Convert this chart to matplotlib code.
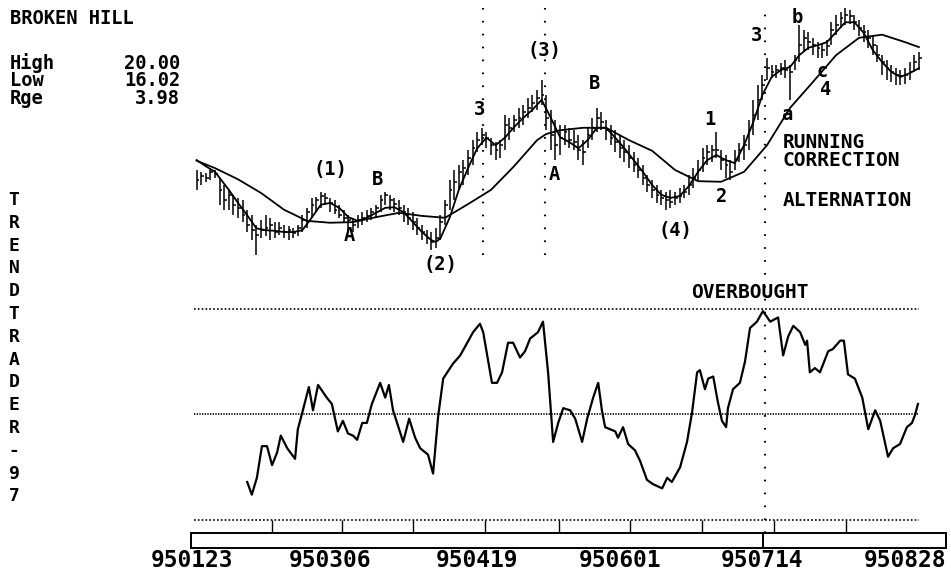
import matplotlib
matplotlib.use("Agg")
import matplotlib.pyplot as plt

# ---------------- data ----------------
days = list(range(1, 159))
high = [17.39,17.36,17.34,17.42,17.39,17.26,17.15,17.07,16.99,16.94,
        16.91,16.75,16.66,16.50,16.58,16.66,16.62,16.55,16.55,16.50,
        16.49,16.45,16.50,16.66,16.78,16.94,16.95,17.04,17.02,16.94,
        16.91,16.83,16.75,16.66,16.62,16.66,16.71,16.75,16.78,16.83,
        16.99,17.04,16.99,16.94,16.91,16.83,16.78,16.71,16.62,16.50,
        16.42,16.39,16.45,16.66,16.91,17.23,17.39,17.47,17.55,17.71,
        17.87,18.00,18.07,18.00,17.91,17.84,17.87,18.28,18.23,18.28,
        18.39,18.44,18.55,18.60,18.68,18.84,18.60,18.36,18.20,18.11,
        18.11,18.07,18.03,17.95,17.87,18.07,18.23,18.39,18.32,18.20,
        18.11,18.03,17.95,17.87,17.79,17.68,17.58,17.47,17.31,17.23,
        17.15,17.07,17.04,17.07,17.04,17.10,17.15,17.31,17.42,17.55,
        17.74,17.79,17.79,18.00,17.71,17.63,17.55,17.71,17.83,17.95,
        18.20,18.52,18.76,18.92,19.19,19.08,19.08,19.11,19.16,19.08,
        19.24,19.73,19.65,19.61,19.52,19.45,19.42,19.48,19.77,19.89,
        19.94,20.00,19.97,19.89,19.81,19.73,19.65,19.57,19.40,19.24,
        19.16,19.08,19.03,19.00,19.03,19.13,19.24,19.29]
low = [17.07,17.15,17.20,17.23,17.26,16.83,16.75,16.75,16.66,16.62,
       16.55,16.39,16.26,16.02,16.29,16.33,16.26,16.29,16.34,16.29,
       16.26,16.29,16.33,16.39,16.45,16.62,16.71,16.78,16.83,16.71,
       16.68,16.62,16.55,16.42,16.39,16.45,16.50,16.55,16.58,16.62,
       16.71,16.83,16.75,16.71,16.66,16.55,16.50,16.42,16.34,16.26,
       16.20,16.10,16.13,16.26,16.50,16.75,16.91,17.07,17.15,17.31,
       17.47,17.68,17.79,17.74,17.63,17.55,17.58,17.71,17.87,18.00,
       18.07,18.11,18.23,18.32,18.36,18.44,18.03,17.71,17.55,17.63,
       17.79,17.74,17.71,17.55,17.47,17.74,17.87,18.00,18.03,17.87,
       17.79,17.68,17.58,17.52,17.42,17.36,17.26,17.15,17.04,16.94,
       16.86,16.83,16.75,16.78,16.83,16.86,16.94,16.99,17.10,17.23,
       17.36,17.47,17.52,17.58,17.39,17.26,17.23,17.39,17.52,17.55,
       17.71,17.95,18.20,18.52,18.84,18.87,18.87,18.92,18.87,18.52,
       19.00,19.13,19.29,19.32,19.24,19.19,19.19,19.23,19.40,19.57,
       19.68,19.73,19.74,19.65,19.55,19.45,19.36,19.24,19.13,18.92,
       18.84,18.81,18.76,18.76,18.78,18.84,18.97,19.00]
close = [17.23,17.29,17.26,17.36,17.33,17.07,16.91,16.99,16.83,16.78,
         16.66,16.50,16.42,16.34,16.42,16.45,16.50,16.39,16.45,16.39,
         16.42,16.37,16.45,16.58,16.71,16.83,16.91,16.97,16.94,16.86,
         16.75,16.66,16.62,16.58,16.50,16.58,16.62,16.65,16.71,16.78,
         16.91,16.99,16.91,16.84,16.78,16.71,16.62,16.55,16.45,16.39,
         16.29,16.23,16.29,16.55,16.83,17.07,17.20,17.36,17.42,17.58,
         17.74,17.87,17.95,17.91,17.79,17.71,17.79,18.11,18.07,18.20,
         18.23,18.32,18.39,18.47,18.55,18.60,18.23,17.95,17.79,17.91,
         18.00,17.87,17.84,17.71,17.68,17.95,18.07,18.23,18.16,18.03,
         17.91,17.84,17.74,17.68,17.58,17.47,17.39,17.26,17.15,17.07,
         16.99,16.94,16.91,16.87,16.94,16.97,17.04,17.15,17.26,17.39,
         17.58,17.68,17.71,17.71,17.55,17.47,17.36,17.55,17.71,17.79,
         18.03,18.28,18.52,18.76,19.03,18.97,19.00,19.03,19.00,18.97,
         19.16,19.40,19.52,19.45,19.40,19.36,19.32,19.39,19.65,19.73,
         19.84,19.89,19.87,19.77,19.68,19.61,19.52,19.40,19.24,19.13,
         19.03,18.97,18.92,18.90,18.92,18.97,19.13,19.19]

ma_long_day = [1,5,10,15,20,25,30,35,40,45,50,55,60,65,70,75,77,80,85,90,
               95,100,105,110,115,120,125,130,135,140,145,150,155,158]
ma_long = [17.54,17.42,17.24,17.02,16.75,16.57,16.54,16.55,16.63,16.70,
           16.65,16.62,16.84,17.07,17.45,17.87,17.97,18.03,18.07,18.07,
           17.87,17.70,17.39,17.21,17.20,17.36,17.79,18.39,18.81,19.24,
           19.52,19.57,19.45,19.37]

ma_short_day = [1,3,5,8,10,12,14,16,18,20,22,24,26,28,30,32,34,36,38,40,
                42,44,46,48,50,52,53,54,56,58,60,62,64,66,68,70,72,74,76,78,
                80,82,84,86,88,90,92,94,96,98,100,102,104,106,108,110,112,114,116,118,
                120,122,124,126,128,130,132,134,136,138,140,142,144,146,148,150,152,154,156,158]
ma_short = [17.55,17.45,17.36,17.07,16.86,16.66,16.45,16.42,16.41,16.39,
            16.39,16.42,16.62,16.83,16.86,16.78,16.63,16.57,16.62,16.70,
            16.78,16.79,16.71,16.55,16.39,16.26,16.23,16.29,16.62,17.07,
            17.42,17.74,17.91,17.79,17.91,18.08,18.23,18.36,18.52,18.23,
            17.92,17.84,17.74,17.87,18.07,18.07,17.91,17.74,17.55,17.36,
            17.15,16.99,16.94,16.97,17.13,17.36,17.55,17.63,17.55,17.50,
            17.79,18.16,18.60,18.89,19.00,19.05,19.24,19.36,19.40,19.45,
            19.61,19.77,19.77,19.60,19.32,19.13,18.97,18.89,18.95,19.03]

osc_day = [12.0,13.0,14.1,15.2,16.3,17.4,18.5,19.3,20.7,22.4,23.0,24.1,25.4,26.3,27.4,
           29.3,30.4,31.7,32.8,33.9,35.0,35.9,37.0,38.0,39.1,40.9,42.0,42.8,43.7,45.9,
           47.2,48.5,49.6,51.3,52.4,53.5,54.6,56.7,58.3,61.1,62.6,63.3,65.2,66.3,67.4,
           68.7,69.8,71.3,72.4,73.5,75.2,76.3,77.4,78.5,79.6,80.7,82.2,83.3,84.8,85.9,
           87.2,88.3,89.1,89.8,90.9,92.0,92.6,93.7,94.8,96.3,97.4,98.9,100.2,102.2,103.3,
           104.3,106.1,107.6,108.7,109.8,110.4,111.5,112.2,113.3,114.3,115.2,116.1,116.5,117.6,119.1,
           120.2,121.3,122.8,124.1,125.7,127.4,128.5,129.6,130.7,132.2,133.3,133.7,134.3,135.4,136.5,
           138.3,139.3,140.9,141.7,142.6,144.1,145.7,147.0,148.5,149.6,151.3,152.4,153.9,155.4,156.5,
           157.2,157.8]
osc_val = [18,12,20,35,35,26,32,40,34,29,43,52,63,52,64,
           58,55,42,47,41,40,38,46,46,55,65,58,64,52,37,
           48,39,34,31,22,49,67,74,78,89,93,89,65,65,70,
           84,84,77,80,86,89,94,70,37,46,53,52,48,37,48,
           58,65,52,44,43,42,39,44,36,33,28,19,17,15,20,
           18,25,37,51,70,71,62,67,68,56,47,44,53,62,65,
           75,91,94,99,94,96,78,87,92,89,83,85,70,72,70,
           80,81,85,85,69,67,58,43,52,47,30,34,36,44,46,
           50,55]
overbought, neutral, oversold = 100, 50, 0

wave_text = ["(1)", "A", "B", "(2)", "3", "(3)", "A", "B", "(4)", "1", "2", "3", "a", "b", "c", "4"]
wave_day = [30, 34.3, 40.4, 54, 62.6, 76.7, 78.7, 87.6, 105, 112.6, 115.2, 122.6, 129.3, 131.5, 137, 137.6]
wave_price = [17.39, 16.34, 17.23, 15.86, 18.36, 19.32, 17.31, 18.78, 16.42, 18.20, 16.97, 19.56, 18.28, 19.85, 18.97, 18.68]

marker_days = [63.3, 76.7, 124.5]
cursor_day = 124.2
tick_days = [17.4, 32.6, 48.0, 63.7, 79.8, 95.2, 110.9, 126.5, 142.2]
date_label_days = [0, 30, 62, 93, 124, 155]
date_labels = ["950123", "950306", "950419", "950601", "950714", "950828"]

title = "BROKEN HILL"
stat_names = ["High", "Low", "Rge"]
stat_values = ["20.00", "16.02", "3.98"]
side_letters = list("TRENDTRADER-97")

# ---------------- layout ----------------
W, H = 951, 573
fig = plt.figure(figsize=(W / 100, H / 100), dpi=100)
fig.patch.set_facecolor("white")
FONT = dict(family="DejaVu Sans Mono", weight="bold", color="black")


def fx(px):
    return px / W


def fy(py):
    return 1 - py / H


AX_L, AX_R = 191, 946
XLIM = (-0.22, 163.9)

ax_p = fig.add_axes([fx(AX_L), fy(275), (AX_R - AX_L) / W, 275 / H])
ax_p.set_xlim(*XLIM)
ax_p.set_ylim(15.698, 20.129)
ax_p.axis("off")

ax_o = fig.add_axes([fx(AX_L), fy(533), (AX_R - AX_L) / W, (533 - 290) / H])
ax_o.set_xlim(*XLIM)
ax_o.set_ylim(-6.16, 109.0)
ax_o.axis("off")

ax_t = fig.add_axes([fx(AX_L), fy(548), (AX_R - AX_L) / W, 15 / H])
ax_t.set_xlim(*XLIM)
ax_t.set_ylim(0, 1)

# ---------------- price panel ----------------
ax_p.vlines(days, low, high, color="black", lw=1.1)
ax_p.hlines(close, days, [d + 0.6 for d in days], color="black", lw=1.1)
ax_p.plot(ma_long_day, ma_long, color="black", lw=1.3)
ax_p.plot(ma_short_day, ma_short, color="black", lw=1.3)

vdots = (0, (0.8, 5.4))
for d in marker_days[:2]:
    ax_p.axvline(d, ymin=(275 - 255) / 275, ymax=(275 - 8) / 275,
                 color="black", lw=1.5, ls=vdots)
ax_p.axvline(marker_days[2], ymin=(275 - 533) / 275, ymax=(275 - 8) / 275,
             color="black", lw=1.5, ls=vdots, clip_on=False)

for t, d, p in zip(wave_text, wave_day, wave_price):
    ax_p.text(d, p, t, ha="center", va="center", fontsize=13.5, **FONT)

# ---------------- oscillator panel ----------------
ax_o.plot(osc_day, osc_val, color="black", lw=1.6)
ax_o.hlines([overbought, oversold], days[0] - 0.5, days[-1], color="black",
            lw=1.2, ls=(0, (1.0, 1.3)))
ax_o.hlines([neutral], days[0] - 0.5, days[-1], color="black",
            lw=1.2, ls=(0, (0.8, 0.8)))

# ---------------- time bar ----------------
for s in ax_t.spines.values():
    s.set_linewidth(1.4)
ax_t.set_yticks([])
ax_t.set_xticks(date_label_days)
ax_t.set_xticklabels(date_labels, fontsize=16.5, **FONT)
ax_t.set_xticks(tick_days, minor=True)
ax_t.tick_params(axis="x", which="major", length=0, pad=1)
ax_t.tick_params(axis="x", which="minor", bottom=False, top=True,
                 direction="out", length=9.4, width=1.0)
ax_t.axvline(cursor_day, color="black", lw=1.4)

# ---------------- texts ----------------
fig.text(fx(10), fy(18), title, ha="left", va="center", fontsize=13.5, **FONT)
for k, (n, v) in enumerate(zip(stat_names, stat_values)):
    y = 63 + 18 * k
    fig.text(fx(10), fy(y), n, ha="left", va="center", fontsize=13.5, **FONT)
    fig.text(fx(180), fy(y), v, ha="right", va="center", fontsize=13.5, **FONT)

for k, ch in enumerate(side_letters):
    fig.text(fx(14), fy(200 + 22.8 * k), ch, ha="center", va="center",
             fontsize=13, **FONT)

fig.text(fx(783), fy(142), "RUNNING", ha="left", va="center", fontsize=14, **FONT)
fig.text(fx(783), fy(160), "CORRECTION", ha="left", va="center", fontsize=14, **FONT)
fig.text(fx(783), fy(200), "ALTERNATION", ha="left", va="center", fontsize=14, **FONT)
fig.text(fx(750), fy(293), "OVERBOUGHT", ha="center", va="center", fontsize=14, **FONT)

fig.savefig("out.png", dpi=100, facecolor="white")
